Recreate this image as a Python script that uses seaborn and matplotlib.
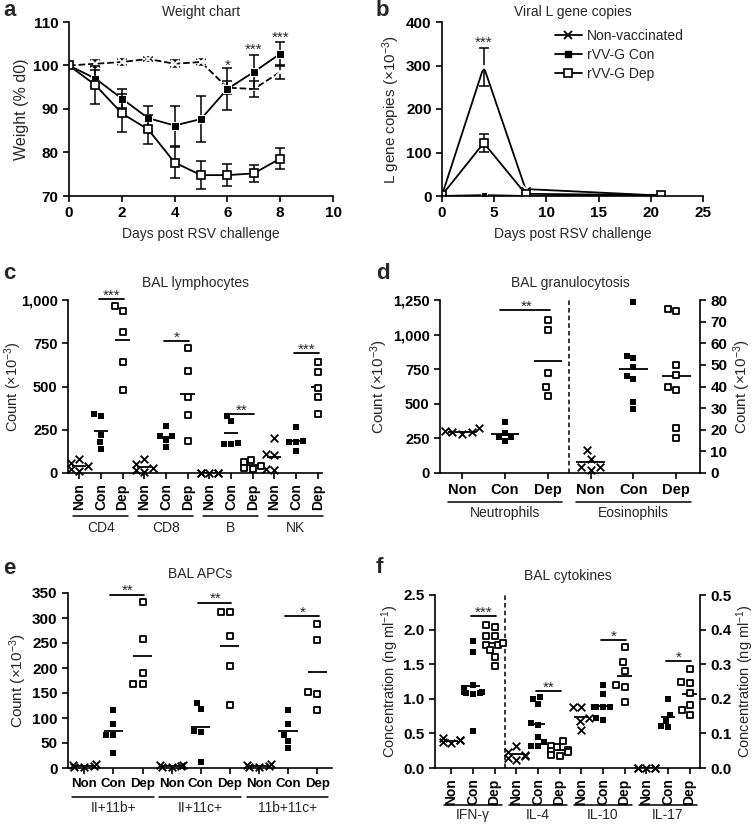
import matplotlib
matplotlib.use("Agg")
import matplotlib.pyplot as plt
from matplotlib.lines import Line2D
import pandas as pd
import seaborn as sns

# ---- a: weight chart (% of day 0)
days_a = [0, 1, 2, 3, 4, 5, 6, 7, 8]
weight_non = [100, 100.4, 100.8, 101.5, 100.4, 100.8, 94.9, 94.6, 98.5]
weight_non_err = [0, 0.8, 0.8, 0.5, 0.8, 0.7, 1.5, 1.8, 1.5]
weight_con = [100, 97.0, 92.4, 87.9, 86.2, 87.7, 94.6, 98.5, 102.7]
weight_con_err = [0, 2.0, 2.1, 2.9, 4.6, 5.3, 4.8, 3.9, 2.8]
weight_dep = [100, 95.5, 89.0, 85.3, 77.7, 74.8, 74.8, 75.2, 78.6]
weight_dep_err = [0, 4.4, 4.4, 3.3, 3.5, 3.3, 2.5, 2.0, 2.4]
weight_star_days = [6, 7, 8]
weight_star_txt = ["*", "***", "***"]
weight_star_y = [100.9, 104.5, 107.4]

# ---- b: viral L gene copies (x10^-3)
days_b = [0, 4, 8, 21]
lgene_non = [2, 297, 16, 1]
lgene_non_err = [0, 43, 3, 0]
lgene_con = [0, 2, 0, 0]
lgene_dep = [2, 122, 5, 2]
lgene_dep_err = [0, 20, 2, 0]

KINDS = ["Non", "Con", "Dep"]

# ---- c: BAL lymphocytes
lymph_groups = ["CD4", "CD8", "B", "NK"]
lymph_non = [[80, 55, 40, 25, 10], [80, 50, 30, 15, 5], [0, 0, 0, 0, 0], [200, 110, 105, 25, 20]]
lymph_con = [[331, 341, 222, 179, 139], [212, 212, 270, 189, 148], [331, 299, 173, 170, 170], [266, 183, 179, 179, 129]]
lymph_dep = [[963, 934, 815, 642, 478], [722, 592, 439, 333, 187], [75, 65, 40, 30, 25], [642, 584, 491, 439, 339]]
lymph_sig = ["***", "*", "**", "***"]
lymph_sig_y = [1006, 765, 341, 694]

# ---- d: BAL granulocytosis (eosinophils on right axis)
neut_non = [300, 325, 280, 295, 295]
neut_con = [368, 289, 260, 260, 234]
neut_dep = [1031, 1105, 722, 621, 559]
eos_non = [10.5, 6.5, 3, 1.5, 3]
eos_con = [79, 54, 53, 49, 45, 43.5, 33, 29.7]
eos_dep = [75.8, 74.7, 50.1, 45.1, 39.6, 38.2, 20.8, 16.2]
neut_sig_y = 1175

# ---- e: BAL APCs
apc_groups = ["II+11b+", "II+11c+", "11b+11c+"]
apc_non = [[8, 5, 3, 6, 2], [7, 4, 2, 6, 3], [6, 4, 8, 3, 2]]
apc_con = [[116, 89, 67, 67, 30], [131, 119, 75, 73, 13], [117, 88, 66, 55, 41]]
apc_dep = [[333, 259, 190, 169, 169], [313, 313, 265, 205, 126], [288, 257, 153, 148, 116]]
apc_sig = ["**", "**", "*"]
apc_sig_y = [347, 331, 304]

# ---- f: BAL cytokines (IL-4/10/17 on right axis)
ifn_non = [0.43, 0.41, 0.38, 0.36, 0.40]
ifn_con = [1.83, 1.68, 1.20, 1.15, 1.10, 1.10, 1.09, 1.08, 1.07, 0.54]
ifn_dep = [2.04, 2.07, 1.91, 1.91, 1.78, 1.78, 1.80, 1.71, 1.60, 1.47]
il_groups = ["IL-4", "IL-10", "IL-17"]
il_non = [[0.065, 0.045, 0.038, 0.035, 0.030, 0.022], [0.177, 0.175, 0.145, 0.137, 0.11], [0, 0, 0, 0, 0]]
il_con = [[0.20, 0.205, 0.185, 0.13, 0.125, 0.09, 0.075, 0.065, 0.065],
          [0.24, 0.215, 0.175, 0.175, 0.175, 0.175, 0.145, 0.14],
          [0.2, 0.153, 0.137, 0.122, 0.118]]
il_dep = [[0.078, 0.065, 0.060, 0.052, 0.050, 0.047, 0.038, 0.036],
          [0.35, 0.305, 0.28, 0.24, 0.233, 0.19],
          [0.286, 0.247, 0.249, 0.217, 0.183, 0.169, 0.153]]
ifn_sig_y = 2.19
il_sig = ["**", "*", "*"]
il_sig_y = [0.222, 0.370, 0.310]

sns.set_theme(style="ticks")
plt.rcParams["font.family"] = ["Liberation Sans", "DejaVu Sans"]
plt.rcParams["mathtext.fontset"] = "custom"
plt.rcParams["mathtext.rm"] = "Liberation Sans"
plt.rcParams["mathtext.it"] = "Liberation Sans:italic"
plt.rcParams["mathtext.bf"] = "Liberation Sans:bold"
plt.rcParams["axes.linewidth"] = 1.2
plt.rcParams["axes.edgecolor"] = "black"

W, H = 755, 834
fig = plt.figure(figsize=(W / 100, H / 100), dpi=100)


def rect(l, t, r, b):
    return [l / W, 1 - b / H, (r - l) / W, (b - t) / H]


def style_axes(ax, right=False):
    for s in ["top", "right"]:
        ax.spines[s].set_visible(False)
    ax.tick_params(direction="out", length=4, width=1.2, colors="black", labelsize=11)
    if right:
        for s in ["top", "left", "bottom"]:
            ax.spines[s].set_visible(False)
        ax.spines["right"].set_visible(True)


def bold_yticks(ax, vals, fmt, size=11):
    ax.set_yticks(vals, [fmt(v) for v in vals], fontweight="bold", fontsize=size)


def dots(ax, groups, non, con, dep, order):
    rows = []
    for g, a, b, c in zip(groups, non, con, dep):
        for kind, vals in zip(KINDS, (a, b, c)):
            rows += [{"cat": f"{g} {kind}", "kind": kind, "v": v} for v in vals]
    df = pd.DataFrame(rows)
    styles = {
        "Non": dict(marker="x", color="black", linewidth=1.3, size=5.5),
        "Con": dict(marker="s", color="black", linewidth=0, size=5),
        "Dep": dict(marker="s", color="white", edgecolor="black", linewidth=1.3, size=5),
    }
    for kind, st in styles.items():
        sns.swarmplot(data=df[df["kind"] == kind], x="cat", y="v", order=order, ax=ax,
                      clip_on=False, zorder=4, warn_thresh=1, **st)
    for cat, m in df.groupby("cat")["v"].mean().items():
        i = order.index(cat)
        ax.hlines(m, i - 0.33, i + 0.33, color="black", lw=1.3, zorder=3)


def sig(ax, j, txt, y):
    ax.plot([3 * j + 0.9, 3 * j + 2.05], [y, y], color="black", lw=1.3, clip_on=False)
    ax.annotate(txt, (3 * j + 1.5, y), xytext=(0, -0.5), textcoords="offset points",
                ha="center", va="baseline", fontsize=11, annotation_clip=False)


def group_marks(ax, groups, y_line, y_text, lo=0.35, hi=0.35):
    tr = ax.get_xaxis_transform()
    for j, g in enumerate(groups):
        ax.plot([3 * j - lo, 3 * j + 2 + hi], [y_line, y_line], transform=tr,
                color="black", lw=1.1, clip_on=False)
        ax.text(3 * j + 1, y_text, g, transform=tr, ha="center", va="center", fontsize=10)


def cat_ticks(ax, n, rotation, fontsize):
    ax.set_xticks(range(n), KINDS * (n // 3), rotation=rotation, fontweight="bold",
                  fontsize=fontsize)
    ax.set_xlabel("")


non_kw = dict(marker="x", ms=6, mew=1.3, color="black")
con_kw = dict(marker="s", ms=5.5, color="black")
dep_kw = dict(marker="s", ms=5.5, mfc="white", mec="black", mew=1.2, color="black")

# ---------------- a
ax = fig.add_axes(rect(69, 22, 333, 196))
style_axes(ax)
for y, err, kw in [
    (weight_non, weight_non_err, dict(non_kw, linestyle="--")),
    (weight_con, weight_con_err, con_kw),
    (weight_dep, weight_dep_err, dep_kw),
]:
    ax.errorbar(days_a, y, yerr=err, fmt="none", ecolor="black", elinewidth=1.1, capsize=3.5, capthick=1.1)
    sns.lineplot(x=days_a, y=y, ax=ax, lw=1.3, **kw)
for d, t, y in zip(weight_star_days, weight_star_txt, weight_star_y):
    ax.annotate(t, (d, y), xytext=(0, -6), textcoords="offset points", ha="center", va="baseline", fontsize=11)
ax.set_xlim(0, 10)
ax.set_ylim(70, 110)
ax.set_xticks(range(0, 11, 2), [str(v) for v in range(0, 11, 2)], fontweight="bold", fontsize=11)
bold_yticks(ax, range(70, 111, 10), lambda v: f"{v}")
ax.set_xlabel("Days post RSV challenge", fontsize=10, labelpad=5)
ax.set_ylabel("Weight (% d0)", fontsize=11.5, labelpad=3)
ax.set_title("Weight chart", fontsize=10, pad=4)

# ---------------- b
ax = fig.add_axes(rect(442, 22, 703, 196))
style_axes(ax)
ax.errorbar(days_b, lgene_non, yerr=lgene_non_err, fmt="none", ecolor="black", elinewidth=1.1, capsize=3.5, capthick=1.1)
ax.errorbar(days_b, lgene_dep, yerr=lgene_dep_err, fmt="none", ecolor="black", elinewidth=1.1, capsize=3.5, capthick=1.1)
sns.lineplot(x=days_b, y=lgene_non, ax=ax, lw=1.3, **non_kw)
sns.lineplot(x=days_b, y=lgene_con, ax=ax, lw=1.3, **dict(con_kw, ms=4.5))
sns.lineplot(x=days_b, y=lgene_dep, ax=ax, lw=1.3, **dep_kw)
ax.annotate("***", (4, 362), xytext=(0, -6), textcoords="offset points", ha="center", va="baseline", fontsize=11)
ax.set_xlim(0, 25)
ax.set_ylim(0, 400)
ax.set_xticks(range(0, 26, 5), [str(v) for v in range(0, 26, 5)], fontweight="bold", fontsize=11)
bold_yticks(ax, range(0, 401, 100), lambda v: f"{v}")
ax.set_xlabel("Days post RSV challenge", fontsize=10, labelpad=5)
ax.set_ylabel("L gene copies (×10$^{-3}$)", fontsize=11, labelpad=3)
ax.set_title("Viral L gene copies", fontsize=10, pad=4)
handles = [Line2D([], [], lw=1.3, **non_kw), Line2D([], [], lw=1.3, **dict(con_kw, ms=4.5)),
           Line2D([], [], lw=1.3, **dep_kw)]
ax.legend(handles, ["Non-vaccinated", "rVV-G Con", "rVV-G Dep"], loc="upper left",
          bbox_to_anchor=(0.41, 0.99), frameon=False, fontsize=10, handlelength=2.0,
          handletextpad=0.3, labelspacing=0.35, borderaxespad=0)

# ---------------- c
ax = fig.add_axes(rect(68, 300, 322, 473))
style_axes(ax)
order_c = [f"{g} {k}" for g in lymph_groups for k in KINDS]
dots(ax, lymph_groups, lymph_non, lymph_con, lymph_dep, order_c)
for j, (t, y) in enumerate(zip(lymph_sig, lymph_sig_y)):
    sig(ax, j, t, y)
ax.set_xlim(-0.52, 11.2)
ax.set_ylim(0, 1000)
bold_yticks(ax, range(0, 1001, 250), lambda v: f"{v:,}", size=10.5)
cat_ticks(ax, 12, 90, 10)
ax.set_ylabel("Count (×10$^{-3}$)", fontsize=10.5)
ax.yaxis.set_label_coords(-0.175, 0.5)
ax.set_title("BAL lymphocytes", fontsize=10, pad=9)
group_marks(ax, lymph_groups, -0.249, -0.318, lo=0.3, hi=0.25)

# ---------------- d
ax = fig.add_axes(rect(440, 300, 700, 473))
ax2 = ax.twinx()
style_axes(ax)
style_axes(ax2, right=True)
gran_groups = ["Neutrophils", "Eosinophils"]
order_d = [f"{g} {k}" for g in gran_groups for k in KINDS]
dots(ax, gran_groups[:1], [neut_non], [neut_con], [neut_dep], order_d)
dots(ax2, gran_groups[1:], [eos_non], [eos_con], [eos_dep], order_d)
sig(ax, 0, "**", neut_sig_y)
ax.axvline(2.5, color="black", lw=1.1, ls=(0, (3, 2)))
ax.set_xlim(-0.51, 5.55)
ax.set_ylim(0, 1250)
ax2.set_ylim(0, 80)
bold_yticks(ax, range(0, 1251, 250), lambda v: f"{v:,}", size=10.5)
bold_yticks(ax2, range(0, 81, 10), lambda v: f"{v}")
cat_ticks(ax, 6, 0, 10.5)
ax.set_ylabel("Count (×10$^{-3}$)", fontsize=11, labelpad=2)
ax2.set_ylabel("Count (×10$^{-3}$)", fontsize=11, labelpad=3)
ax.set_title("BAL granulocytosis", fontsize=10, pad=9)
group_marks(ax, gran_groups, -0.168, -0.231, lo=0.33, hi=0.33)

# ---------------- e
ax = fig.add_axes(rect(68, 593, 332, 768))
style_axes(ax)
order_e = [f"{g} {k}" for g in apc_groups for k in KINDS]
dots(ax, apc_groups, apc_non, apc_con, apc_dep, order_e)
for j, (t, y) in enumerate(zip(apc_sig, apc_sig_y)):
    sig(ax, j, t, y)
ax.set_xlim(-0.56, 8.51)
ax.set_ylim(0, 350)
bold_yticks(ax, range(0, 351, 50), lambda v: f"{v}")
cat_ticks(ax, 9, 0, 9.5)
ax.set_ylabel("Count (×10$^{-3}$)", fontsize=11, labelpad=2)
ax.set_title("BAL APCs", fontsize=10, pad=11)
group_marks(ax, apc_groups, -0.166, -0.229, lo=0.42, hi=0.38)

# ---------------- f
ax = fig.add_axes(rect(435, 595, 700, 768))
ax2 = ax.twinx()
style_axes(ax)
style_axes(ax2, right=True)
cyto_groups = ["IFN-γ"] + il_groups
order_f = [f"{g} {k}" for g in cyto_groups for k in KINDS]
dots(ax, cyto_groups[:1], [ifn_non], [ifn_con], [ifn_dep], order_f)
dots(ax2, il_groups, il_non, il_con, il_dep, order_f)
sig(ax, 0, "***", ifn_sig_y)
for j, (t, y) in enumerate(zip(il_sig, il_sig_y)):
    sig(ax2, j + 1, t, y)
ax.axvline(2.5, color="black", lw=1.1, ls=(0, (3, 2)))
ax.set_xlim(-0.75, 11.48)
ax.set_ylim(0, 2.5)
ax2.set_ylim(0, 0.5)
bold_yticks(ax, [0, 0.5, 1.0, 1.5, 2.0, 2.5], lambda v: f"{v:.1f}")
bold_yticks(ax2, [0, 0.1, 0.2, 0.3, 0.4, 0.5], lambda v: f"{v:.1f}")
cat_ticks(ax, 12, 90, 10)
ax.set_ylabel("Concentration (ng ml$^{-1}$)", fontsize=10.5, labelpad=2)
ax2.set_ylabel("Concentration (ng ml$^{-1}$)", fontsize=10.5, labelpad=2)
ax.set_title("BAL cytokines", fontsize=10, pad=11)
group_marks(ax, cyto_groups, -0.214, -0.272)

# panel letters
for letter, (x, y) in zip("abcdef", [(3, 0), (376, 0), (3, 263), (376, 263), (3, 558), (376, 557)]):
    fig.text(x / W, 1 - y / H, letter, fontsize=16, fontweight="bold", va="top", ha="left")

fig.savefig("out.png", dpi=100)
